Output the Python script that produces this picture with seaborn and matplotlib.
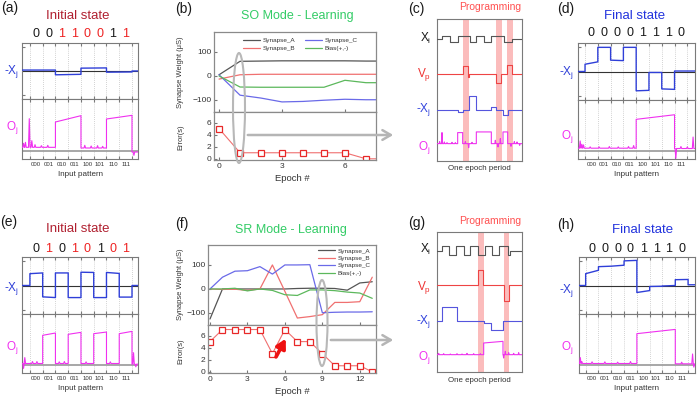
import numpy as np
import matplotlib
matplotlib.use("Agg")
import matplotlib.pyplot as plt
import matplotlib.transforms as mtrans
from matplotlib.patches import Ellipse, FancyArrowPatch
import seaborn as sns

# ------------------------------------------------------------------ data
PATTERNS = ["000", "001", "010", "011", "100", "101", "110", "111"]

# (a) SO mode, initial state
A_BITS = ["0", "0", "1", "1", "0", "0", "1", "1"]
A_WRONG = [0, 0, 1, 1, 1, 1, 0, 1]
A_XJ_EDGES = [-0.62, 2, 4, 6, 8, 8.47]
A_XJ_LEVELS = [0.04, (-0.16, -0.14), (0.12, 0.13), (-0.05, -0.04), 0.0]
A_OI_EDGES = [-0.62, 2, 4, 6, 8, 8.47]
A_OI_LEVELS = [0.1, (0.86, 1.05), 0.08, (0.95, 1.06), -0.04]
A_OI_SPK_T = [-0.5, -0.35, -0.05, 0.15, 0.4, 0.9, 1.4, 4.3, 4.8, 5.3, 5.7, 8.15]
A_OI_SPK_V = [0.12, 0.15, 0.86, 0.2, 0.08, 0.05, 0.06, 0.08, 0.06, 0.07, 0.05, -0.1]

# (d) SO mode, final state
D_BITS = ["0", "0", "0", "0", "1", "1", "1", "0"]
D_WRONG = [0, 0, 0, 0, 0, 0, 0, 0]
D_XJ_EDGES = [-0.55, 0, 1, 2, 3, 4, 5, 6, 7, 8.6]
D_XJ_LEVELS = [0.0, (0.3, 0.4), 1.0, (0.47, 0.45), 1.0, (-0.8, -0.78), -0.04, (-0.72, -0.74), 0.02]
D_OI_EDGES = [-0.55, 4, 7, 8.6]
D_OI_LEVELS = [0.08, (0.96, 1.1), 0.07]
D_OI_SPK_T = [-0.38, -0.25, -0.12, 0.4, 1.1, 1.9, 2.6, 3.4, 3.8, 7.1, 7.5, 8.0, 8.45]
D_OI_SPK_V = [0.22, 0.12, 0.1, 0.04, 0.04, 0.05, 0.04, 0.05, 0.08, -0.3, 0.06, 0.05, 0.35]

# (e) SR mode, initial state
E_BITS = ["0", "1", "0", "1", "0", "1", "0", "1"]
E_WRONG = [0, 1, 0, 1, 1, 0, 1, 1]
E_XJ_EDGES = [-0.62, 0, 1, 2, 3, 4, 5, 6, 7, 8, 8.47]
E_XJ_LEVELS = [0.0, (0.49, 0.52), (-0.47, -0.5), 0.52, -0.5, (0.55, 0.54), -0.5, (0.54, 0.5), -0.48, 0.0]
E_OI_EDGES = [-0.62, 1, 2, 3, 4, 5, 6, 7, 8, 8.47]
E_OI_LEVELS = [0.04, (0.9, 0.97), 0.04, (0.93, 0.99), 0.04, (0.95, 1.0), 0.04, (0.95, 1.02), 0.02]
E_OI_SPK_T = [-0.5, -0.4, 0.2, 0.55, 2.3, 2.7, 4.4, 6.3, 8.12, 8.3]
E_OI_SPK_V = [-0.15, 0.18, 0.06, 0.06, 0.05, 0.06, 0.05, 0.05, 0.35, -0.08]

# (h) SR mode, final state
H_BITS = ["0", "0", "0", "0", "1", "1", "1", "0"]
H_WRONG = [0, 0, 0, 0, 0, 0, 0, 0]
H_XJ_EDGES = [-0.52, 0, 1, 2, 3, 4, 5, 6, 7, 8, 8.54]
H_XJ_LEVELS = [0.0, (0.49, 0.63), (0.78, 0.8), (0.8, 0.84), (1.02, 1.04), (-0.29, -0.21),
               (-0.04, -0.03), (-0.02, 0.0), (0.24, 0.25), 0.03]
H_OI_EDGES = [-0.52, 4, 7, 8.54]
H_OI_LEVELS = [0.04, (0.95, 1.08), 0.03]
H_OI_SPK_T = [-0.42, -0.3, 0.5, 1.5, 2.5, 3.5, 7.5, 8.35, 8.45]
H_OI_SPK_V = [0.18, 0.06, 0.05, 0.05, 0.04, 0.06, 0.05, 0.3, -0.1]

# (b) SO learning
SO_EPOCH = [0, 1, 2, 3, 4, 5, 6, 7, 8]
SO_A = [5, 61, 62, 63, 63, 63, 63, 62, 62]
SO_B = [-13, 5, 7, 7, 7, 7, 7, 7, 7]
SO_C = [5, -80, -92, -108, -106, -101, -97, -99, -99]
SO_BIAS = [0, -46, -47, -47, -47, -47, -18, -28, -28]
SO_ERR = [5, 1, 1, 1, 1, 1, 1, 0, 0]

# (f) SR learning
SR_EPOCH = [0, 1, 2, 3, 4, 5, 6, 7, 8, 9, 10, 11, 12, 13]
SR_A = [-125, 0, 0, 0, 0, 0, 0, 2, 3, 3, 2, -5, 25, 30]
SR_B = [0, -2, -1, -6, 0, 100, -10, -121, -115, -107, -56, -56, -53, 49]
SR_C = [0, 49, 74, 76, 93, 62, 100, 100, 101, -99, -97, -96, -96, -95]
SR_BIAS = [0, 0, 3, -8, 0, -6, -24, -27, -4, -4, -7, -13, -17, -39]
SR_ERR = [5, 7, 7, 7, 7, 3, 7, 5, 5, 3, 1, 1, 1, 0]

SYN_NAMES = ["Synapse_A", "Synapse_B", "Synapse_C", "Bias(+,-)"]

# (c) SO programming, one epoch (time in arbitrary units 0..255)
C_XI_EDGES = [0, 15, 40, 62, 98, 118, 142, 162, 200, 225, 255]
C_XI_LEVELS = [0, 1, -1, 1, -1, 1, -1, 1, -1, 0]
C_VP_EDGES = [0, 77, 92, 96, 178, 193, 211, 226, 255]
C_VP_LEVELS = [0, 2.6, -0.7, 0, -2.5, 0, 2.8, 0]
C_XJ_EDGES = [0, 62, 77, 97, 118, 163, 178, 198, 212, 255]
C_XJ_LEVELS = [0, -0.5, 0.2, 4.3, 0, 1.0, 0.2, -1.3, 0]
C_OI_EDGES = [0, 62, 77, 118, 163, 198, 212, 255]
C_OI_LEVELS = [0, 3.3, 0, 3.5, 0, 3.5, 0]
C_OI_SPK_T = [8, 15, 22, 30, 45, 55, 85, 95, 105, 175, 183, 190, 222, 232, 240, 248]
C_OI_SPK_V = [0.6, 3.3, 0.5, 0.3, 0.4, 0.3, 0.6, -1.2, 0.4, 1.0, -1.0, 1.5, -0.8, 0.6, 0.5, -0.5]
C_BANDS = [(77, 95), (178, 195), (210, 228)]

# (g) SR programming, one epoch
G_XI_EDGES = [0, 15, 37, 58, 80, 100, 123, 143, 165, 185, 212, 220, 255]
G_XI_LEVELS = [0, 1.3, -1.2, 1.3, -1.2, 1.3, -1.2, 1.3, -1.2, 1.3, -1.2, 0]
G_VP_EDGES = [0, 123, 137, 202, 215, 255]
G_VP_LEVELS = [0, 4.5, 0, -4.6, 0]
G_XJ_EDGES = [0, 15, 60, 140, 162, 198, 255]
G_XJ_LEVELS = [0, 4.0, 0, -0.7, -2.7, 0]
G_OI_EDGES = [0, 140, 198, 255]
G_OI_LEVELS = [0, (3.5, 4.0), 0]
G_OI_SPK_T = [5, 20, 40, 60, 75, 90, 110, 130, 200, 205, 215, 230, 245]
G_OI_SPK_V = [0.4, 0.3, 0.2, 0.3, 0.2, 0.4, 0.3, 0.3, -1.0, 1.0, 0.6, 0.4, 0.6]
G_BANDS = [(123, 140), (200, 217)]

# ------------------------------------------------------------------ style
sns.set_style("white")
plt.rcParams["font.family"] = ["Liberation Sans", "DejaVu Sans"]
plt.rcParams["mathtext.default"] = "regular"

BLUE = "#2f3fd8"
MAG = "#f030f0"
GRID = "#c4c4c4"
SPINE = "#7a7a7a"
TXT = "#333333"
BLACK = "#1a1a1a"
RED = "#ee2222"
SYN_COLORS = ["#555555", "#f07070", "#6a6ae8", "#5cb85c"]

W, H = 700, 398
fig = plt.figure(figsize=(7, 3.98), dpi=100)
fig.patch.set_facecolor("white")


def rect(x0, y0, x1, y1):
    return [x0 / W, 1 - y1 / H, (x1 - x0) / W, (y1 - y0) / H]


def ftext(x, y, s, **kw):
    kw.setdefault("ha", "center")
    kw.setdefault("va", "center")
    fig.text(x / W, 1 - y / H, s, **kw)


def build(edges, levels, spk_t=(), spk_v=(), w=0.06):
    xs, ys = [], []
    spikes = sorted(zip(spk_t, spk_v))
    for i, lv in enumerate(levels):
        a, b = edges[i], edges[i + 1]
        l0, l1 = lv if isinstance(lv, tuple) else (lv, lv)
        xs.append(a)
        ys.append(l0)
        for t, v in spikes:
            if a < t - w and t + w < b:
                base = l0 + (l1 - l0) * (t - a) / (b - a)
                xs += [t - w, t, t + w]
                ys += [base, base + v, base]
        xs.append(b)
        ys.append(l1)
    return np.array(xs, float), np.array(ys, float)


def style_spines(ax, color=SPINE, lw=0.8):
    for s in ax.spines.values():
        s.set_color(color)
        s.set_linewidth(lw)


def pattern_panel(x0, x1, ytop, ymid, ybot, xlim, xj, oi, title, tcol, tx, ty,
                  bits, wrong, ydig, lblx, xj_ly, oi_ly, yxlabel):
    ax1 = fig.add_axes(rect(x0, ytop, x1, ymid))
    ax2 = fig.add_axes(rect(x0, ymid, x1, ybot))
    for ax in (ax1, ax2):
        for k in range(9):
            ax.axvline(k, color=GRID, lw=0.6, ls=(0, (1, 1.5)), zorder=0)
        ax.set_xlim(*xlim)
        style_spines(ax)
        ax.set_xticks(range(9))
        ax.set_xticklabels([])
        ax.tick_params(axis="x", which="major", direction="in", length=2,
                       top=True, bottom=True, color=SPINE)
    ax1.axhline(0, color="#333333", lw=0.8, zorder=1)
    sns.lineplot(x=xj[0], y=xj[1], ax=ax1, color=BLUE, lw=1.0,
                 estimator=None, sort=False, zorder=3)
    ax1.set_ylim(-1.18, 1.18)
    ax1.set_yticks([-1, 1])
    ax1.set_yticklabels([])
    ax1.tick_params(axis="y", direction="in", length=2, left=True, color=SPINE)
    ax2.axhline(0, color="#a0a0a0", lw=1.3, zorder=1)
    sns.lineplot(x=oi[0], y=oi[1], ax=ax2, color=MAG, lw=0.8,
                 estimator=None, sort=False, zorder=3)
    ax2.set_ylim(-0.25, 1.55)
    ax2.set_yticks([])
    ax2.set_xticks([k + 0.5 for k in range(8)], minor=True)
    ax2.set_xticklabels(PATTERNS, minor=True)
    ax2.tick_params(axis="x", which="minor", length=0, labelsize=4.3, pad=2,
                    labelcolor=TXT)
    ax1.set_xlabel("")
    ax2.set_xlabel("")
    ftext(tx, ty, title, color=tcol, fontsize=9.5)
    tr = mtrans.blended_transform_factory(ax1.transData, fig.transFigure)
    for k, (b, wr) in enumerate(zip(bits, wrong)):
        ax1.text(k + 0.5, 1 - ydig / H, b, transform=tr, ha="center", va="center",
                 fontsize=9, color=RED if wr else BLACK)
    ftext(lblx, xj_ly, "-X$_j$", color=BLUE, fontsize=8.5, ha="right")
    ftext(lblx, oi_ly, "O$_j$", color=MAG, fontsize=8.5, ha="right")
    ftext((x0 + x1) / 2, yxlabel, "Input pattern", color=TXT, fontsize=5.8)
    return ax1, ax2


def learn_panel(x0, x1, ytop, ymid, ybot, ep, series, err, xlim, xticks,
                title, tx, ty, leg_anchor, leg_ncol, ylab_y, err_y, xlab_y):
    ax1 = fig.add_axes(rect(x0, ytop, x1, ymid))
    ax2 = fig.add_axes(rect(x0, ymid, x1, ybot))
    for vals, name, col in zip(series, SYN_NAMES, SYN_COLORS):
        sns.lineplot(x=ep, y=vals, ax=ax1, color=col, lw=0.9, label=name,
                     estimator=None, sort=False)
    sns.lineplot(x=ep, y=err, ax=ax2, color="#f07070", lw=0.8, marker="s",
                 markersize=4, markerfacecolor="white", markeredgecolor="#e82828",
                 markeredgewidth=0.9, estimator=None, sort=False)
    ax1.set_ylim(-150, 183)
    ax2.set_ylim(-0.2, 7.75)
    ax1.set_yticks([-100, 0, 100])
    ax2.set_yticks([0, 2, 4, 6])
    for ax in (ax1, ax2):
        ax.set_xlim(*xlim)
        ax.set_xticks(xticks)
        style_spines(ax, "#8a8a8a", 0.9)
        ax.tick_params(direction="in", length=2.5, left=True, bottom=True,
                       color="#777777", labelsize=6.0, labelcolor=TXT, pad=2)
        ax.set_xlabel("")
        ax.set_ylabel("")
    ax1.set_xticklabels([])
    ax1.legend(ncol=leg_ncol, loc="upper left", bbox_to_anchor=leg_anchor,
               frameon=False, fontsize=4.6, handlelength=2.7, handletextpad=0.3,
               columnspacing=1.6, labelspacing=0.3, borderpad=0, borderaxespad=0,
               labelcolor=TXT)
    ftext(tx, ty, title, color="#33cc66", fontsize=9)
    ftext(181, ylab_y, "Synapse Weight (\u03bcS)", rotation=90, fontsize=5.4, color=TXT)
    ftext(181, err_y, "Error(s)", rotation=90, fontsize=5.4, color=TXT)
    ftext(292, xlab_y, "Epoch #", fontsize=6.8, color=TXT)
    return ax1, ax2


def prog_panel(ytop, ybot, ylim, traces, bands, label_ys, title_y, foot_y):
    ax = fig.add_axes(rect(437, ytop, 522, ybot))
    for b0, b1 in bands:
        ax.axvspan(b0, b1, color="#fbbcbc", lw=0, zorder=0)
    for (xs, ys), off, col in traces:
        sns.lineplot(x=xs, y=ys + off, ax=ax, color=col, lw=0.8,
                     estimator=None, sort=False, zorder=3)
    ax.set_xlim(0, 255)
    ax.set_ylim(*ylim)
    ax.set_xticks([])
    ax.set_yticks([])
    ax.set_xlabel("")
    ax.set_ylabel("")
    style_spines(ax)
    labels = [("X$_i$", BLACK), ("V$_p$", "#ee3333"), ("-X$_j$", "#3344dd"), ("O$_j$", MAG)]
    for (s, c), y in zip(labels, label_ys):
        ftext(431, y, s, color=c, fontsize=8.5, ha="right")
    ftext(490, title_y, "Programming", color="#ff5050", fontsize=7.5)
    ftext(479, foot_y, "One epoch period", color=TXT, fontsize=5.7)
    return ax


# ------------------------------------------------------------------ panels
pattern_panel(22, 138, 43, 99, 159, (-0.62, 8.47),
              build(A_XJ_EDGES, A_XJ_LEVELS),
              build(A_OI_EDGES, A_OI_LEVELS, A_OI_SPK_T, A_OI_SPK_V),
              "Initial state", "#b02030", 78, 16, A_BITS, A_WRONG, 34,
              19, 72, 128, 174)
pattern_panel(578, 695, 43, 100, 159, (-0.55, 8.6),
              build(D_XJ_EDGES, D_XJ_LEVELS),
              build(D_OI_EDGES, D_OI_LEVELS, D_OI_SPK_T, D_OI_SPK_V),
              "Final state", "#2233dd", 635, 16, D_BITS, D_WRONG, 33,
              574, 73, 137, 174)
pattern_panel(22, 138, 257, 314, 373, (-0.62, 8.47),
              build(E_XJ_EDGES, E_XJ_LEVELS),
              build(E_OI_EDGES, E_OI_LEVELS, E_OI_SPK_T, E_OI_SPK_V),
              "Initial state", "#b02030", 78, 229, E_BITS, E_WRONG, 249,
              19, 288, 348, 388)
pattern_panel(579, 695, 257, 314, 373, (-0.52, 8.54),
              build(H_XJ_EDGES, H_XJ_LEVELS),
              build(H_OI_EDGES, H_OI_LEVELS, H_OI_SPK_T, H_OI_SPK_V),
              "Final state", "#2233dd", 643, 230, H_BITS, H_WRONG, 249,
              574, 290, 347, 388)

learn_panel(214, 376, 32, 112, 160, SO_EPOCH, [SO_A, SO_B, SO_C, SO_BIAS], SO_ERR,
            (-0.24, 7.48), [0, 3, 6], "SO Mode - Learning", 297, 16,
            (0.18, 0.925), 2, 72, 137, 178)
axf1, axf2 = learn_panel(208, 376, 245, 325, 373, SR_EPOCH, [SR_A, SR_B, SR_C, SR_BIAS],
                         SR_ERR, (-0.16, 13.3), [0, 3, 6, 9, 12], "SR Mode - Learning",
                         291, 230, (0.655, 0.96), 1, 284, 351, 391)
axf2.annotate("", xy=(6.07, 5.48), xytext=(5.29, 2.46),
              arrowprops=dict(arrowstyle="-|>,head_length=0.45,head_width=0.25",
                              color="#ee1111", lw=2.6, mutation_scale=12,
                              shrinkA=0, shrinkB=0))

prog_panel(19, 161, (0, 42.5),
           [(build(C_XI_EDGES, C_XI_LEVELS), 36.5, "#555555"),
            (build(C_VP_EDGES, C_VP_LEVELS), 25.9, "#ee4444"),
            (build(C_XJ_EDGES, C_XJ_LEVELS), 15.2, "#5555dd"),
            (build(C_OI_EDGES, C_OI_LEVELS, C_OI_SPK_T, C_OI_SPK_V, w=1.5), 5.2, "#ee33ee")],
           C_BANDS, [38, 75, 110, 147], 7, 168)
prog_panel(232, 372, (0, 42),
           [(build(G_XI_EDGES, G_XI_LEVELS), 36.4, "#555555"),
            (build(G_VP_EDGES, G_VP_LEVELS), 26.0, "#ee4444"),
            (build(G_XJ_EDGES, G_XJ_LEVELS), 15.4, "#5555dd"),
            (build(G_OI_EDGES, G_OI_LEVELS, G_OI_SPK_T, G_OI_SPK_V, w=1.5), 5.2, "#ee33ee")],
           G_BANDS, [249, 287, 322, 357], 221, 381)

# ellipses and connecting arrows
for (cx, cy, ew, eh) in [(239, 108, 12, 110), (322, 323, 11, 86)]:
    fig.add_artist(Ellipse((cx / W, 1 - cy / H), ew / W, eh / H, transform=fig.transFigure,
                           fill=False, ec="#b8b8b8", lw=1.5))
for (xa, xb, yy) in [(245, 396, 135), (328, 396, 340)]:
    fig.add_artist(FancyArrowPatch((xa / W, 1 - yy / H), (xb / W, 1 - yy / H),
                                   transform=fig.transFigure,
                                   arrowstyle="->,head_length=0.6,head_width=0.35",
                                   mutation_scale=10, color="#b5b5b5", lw=1.8))

# panel letters
for s, x, y in [("(a)", 1, 8), ("(b)", 175, 9), ("(c)", 408, 9), ("(d)", 557, 9),
                ("(e)", 0, 222), ("(f)", 175, 224), ("(g)", 408, 223), ("(h)", 557, 225)]:
    ftext(x, y, s, fontsize=10, color=BLACK, ha="left")

fig.savefig("out.png", dpi=100)
